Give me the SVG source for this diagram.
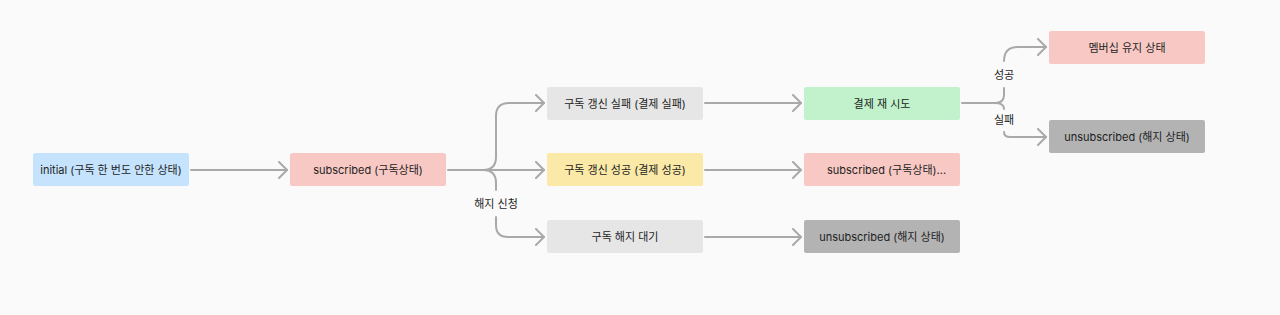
<svg xmlns="http://www.w3.org/2000/svg" width="1280" height="315" viewBox="0 0 1280 315">
<style>
.n{stroke:none}
.t{font-family:"Inter","Noto Sans CJK KR",sans-serif;font-size:11px;fill:#1e1e1e;text-anchor:middle;dominant-baseline:central}
.c{fill:none;stroke:#a9a9a9;stroke-width:2;stroke-linecap:round}
.lbl{font-family:"Inter","Noto Sans CJK KR",sans-serif;font-size:11px;fill:#1e1e1e;text-anchor:middle;dominant-baseline:central}
</style>
<defs>
<marker id="ah" viewBox="0 0 10 18" refX="9" refY="9" markerWidth="10" markerHeight="18" markerUnits="userSpaceOnUse" orient="auto">
<path d="M1,1 L9,9 L1,17" fill="none" stroke="#a9a9a9" stroke-width="2" stroke-linecap="round" stroke-linejoin="round"/>
</marker>
</defs>
<rect width="1280" height="315" fill="#fafafa"/>
<g id="connectors">
<path class="c" d="M191,170 H287" marker-end="url(#ah)"/>
<path class="c" d="M448,170 H544" marker-end="url(#ah)"/>
<path class="c" d="M483,170 Q496,170 496,157 V116 Q496,103 509,103 H544" marker-end="url(#ah)"/>
<path class="c" d="M483,170 Q496,170 496,183 V190"/>
<path class="c" d="M496,217 V225 Q496,237 508,237 H544" marker-end="url(#ah)"/>
<path class="c" d="M705,103 H801" marker-end="url(#ah)"/>
<path class="c" d="M705,170 H801" marker-end="url(#ah)"/>
<path class="c" d="M705,237 H801" marker-end="url(#ah)"/>
<path class="c" d="M962,103 H995 Q1004,103 1004,95 V88"/>
<path class="c" d="M1004,61 Q1004,47 1018,47 H1046" marker-end="url(#ah)"/>
<path class="c" d="M995,103 Q1004,103 1004,109"/>
<path class="c" d="M1004,132 Q1004,137 1010,137 H1046" marker-end="url(#ah)"/>
<text class="lbl" x="496" y="204">해지 신청</text>
<text class="lbl" x="1004" y="75">성공</text>
<text class="lbl" x="1004" y="120">실패</text>
</g>
<g id="initial">
<rect class="n" x="33" y="153" width="156" height="33" rx="2" fill="#c5e3fc"/>
<text class="t" x="111" y="170">initial (구독 한 번도 안한 상태)</text>
</g>
<g id="subscribed">
<rect class="n" x="290" y="153" width="156" height="33" rx="2" fill="#f8c9c4"/>
<text class="t" x="368" y="170">subscribed (구독상태)</text>
</g>
<g id="renew-fail">
<rect class="n" x="547" y="87" width="156" height="33" rx="2" fill="#e6e6e6"/>
<text class="t" x="625" y="103.5">구독 갱신 실패 (결제 실패)</text>
</g>
<g id="renew-success">
<rect class="n" x="547" y="153" width="156" height="33" rx="2" fill="#fbe9a8"/>
<text class="t" x="625" y="170">구독 갱신 성공 (결제 성공)</text>
</g>
<g id="cancel-wait">
<rect class="n" x="547" y="220" width="156" height="33" rx="2" fill="#e6e6e6"/>
<text class="t" x="625" y="237">구독 해지 대기</text>
</g>
<g id="retry">
<rect class="n" x="804" y="87" width="156" height="33" rx="2" fill="#c1f2cc"/>
<text class="t" x="882" y="103.5">결제 재 시도</text>
</g>
<g id="subscribed2">
<rect class="n" x="804" y="153" width="156" height="33" rx="2" fill="#f8c9c4"/>
<text class="t" x="827" y="170" style="text-anchor:start">subscribed (구독상태)...</text>
</g>
<g id="unsubscribed1">
<rect class="n" x="804" y="220" width="156" height="33" rx="2" fill="#b3b3b3"/>
<text class="t" x="882" y="237">unsubscribed (해지 상태)</text>
</g>
<g id="membership">
<rect class="n" x="1049" y="31" width="156" height="33" rx="2" fill="#f8c9c4"/>
<text class="t" x="1127" y="47.5">멤버십 유지 상태</text>
</g>
<g id="unsubscribed2">
<rect class="n" x="1049" y="120" width="156" height="33" rx="2" fill="#b3b3b3"/>
<text class="t" x="1127" y="137">unsubscribed (해지 상태)</text>
</g>
</svg>
